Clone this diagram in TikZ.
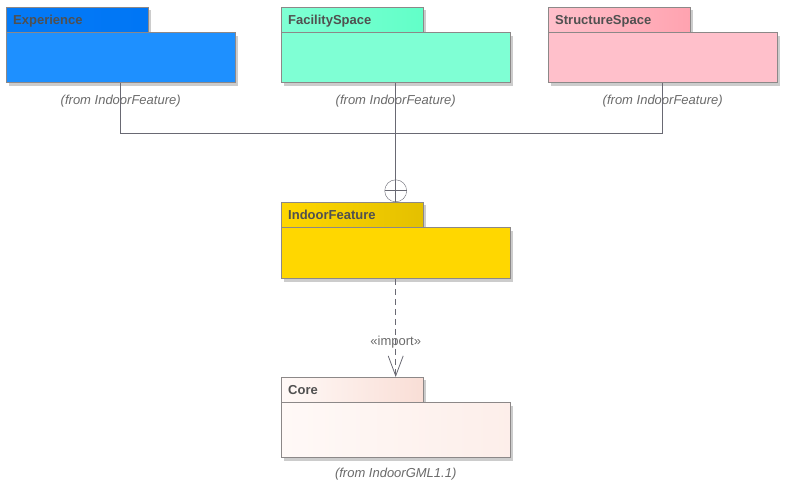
\documentclass[tikz,border=0pt]{standalone}
\usepackage{fontspec}
\setmainfont{Liberation Sans}
\usepackage{xcolor}
\usetikzlibrary{arrows.meta, positioning, shadows}
\definecolor{expblue}{RGB}{30,144,255}
\definecolor{exptab}{RGB}{0,118,245}
\definecolor{facgreen}{RGB}{127,255,212}
\definecolor{factab}{RGB}{98,255,200}
\definecolor{strpink}{RGB}{255,192,203}
\definecolor{strtab}{RGB}{255,163,176}
\definecolor{featgold}{RGB}{255,215,0}
\definecolor{feattab}{RGB}{228,192,0}
\definecolor{corebody}{RGB}{255,249,247}
\definecolor{coretab}{RGB}{249,222,214}
\definecolor{edgegray}{RGB}{140,136,136}
\definecolor{textgray}{RGB}{80,80,80}
\definecolor{linegray}{RGB}{105,105,115}

\begin{document}
\begin{tikzpicture}[
    x=1pt, y=-1pt,
    every node/.style={font=\fontsize{13}{15}\selectfont},
    pkgtab/.style={rectangle, draw=edgegray, text width=128pt, inner xsep=7pt, inner ysep=0pt,
                   minimum height=25pt, text height=9.4pt, text depth=0pt, align=left, text=textgray,
                   font=\fontsize{13}{15}\selectfont\bfseries,
                   drop shadow={shadow xshift=3pt, shadow yshift=-3pt, opacity=0.2, fill=black}},
    pkgbody/.style={rectangle, draw=edgegray, minimum width=229pt, minimum height=50pt,
                    drop shadow={shadow xshift=3pt, shadow yshift=-3pt, opacity=0.2, fill=black}},
    origin/.style={text=textgray!85, font=\fontsize{13}{15}\selectfont\itshape},
    stereo/.style={text=textgray!85},
    nest/.style={circle, draw=linegray, minimum size=22pt, inner sep=0pt},
    link/.style={draw=linegray, line width=0.8pt},
    import/.style={link, dash pattern=on 6pt off 4pt, -{Straight Barb[length=20pt, width=15pt]}}
]

\useasboundingbox (0,0) rectangle (787,488);

\node (exptab) [pkgtab, left color=exptab!85!expblue, right color=exptab, anchor=north west] at (6,7) {Experience};
\node (exp) [pkgbody, fill=expblue, below right=0pt and 0pt of exptab.south west] {};
\node (exporig) [origin, below=9pt of exp] {(from IndoorFeature)};

\node (factab) [pkgtab, left color=facgreen, right color=factab, anchor=north west] at (281,7) {FacilitySpace};
\node (fac) [pkgbody, fill=facgreen, below right=0pt and 0pt of factab.south west] {};
\node (facorig) [origin, below=9pt of fac] {(from IndoorFeature)};

\node (strtab) [pkgtab, left color=strpink, right color=strtab, anchor=north west] at (548,7) {StructureSpace};
\node (str) [pkgbody, fill=strpink, below right=0pt and 0pt of strtab.south west] {};
\node (strorig) [origin, below=9pt of str] {(from IndoorFeature)};

\node (feattab) [pkgtab, left color=featgold, right color=feattab, anchor=north west] at (281,202) {IndoorFeature};
\node (feat) [pkgbody, fill=featgold, minimum height=51pt, below right=0pt and 0pt of feattab.south west] {};

\node (coretab) [pkgtab, left color=corebody, right color=coretab, anchor=north west] at (281,377) {Core};
\node (core) [pkgbody, left color=corebody, right color=coretab!40!corebody, minimum height=55pt,
              below right=0pt and 0pt of coretab.south west] {};
\node (coreorig) [origin, below=7pt of core] {(from IndoorGML1.1)};

\node (nest) [nest, anchor=south] at (feat.north |- feattab.north) {};
\coordinate (join) at (fac.south |- 0,133);

\draw [link] (exp.south) |- (join);
\draw [link] (str.south) |- (join);
\draw [link] (fac.south) -- (nest.north);
\draw [link] (nest.north) -- (nest.south) (nest.west) -- (nest.east);
\draw [import] (feat.south) -- node [stereo, pos=0.64] {«import»} (feat.south |- coretab.north);

\end{tikzpicture}
\end{document}
